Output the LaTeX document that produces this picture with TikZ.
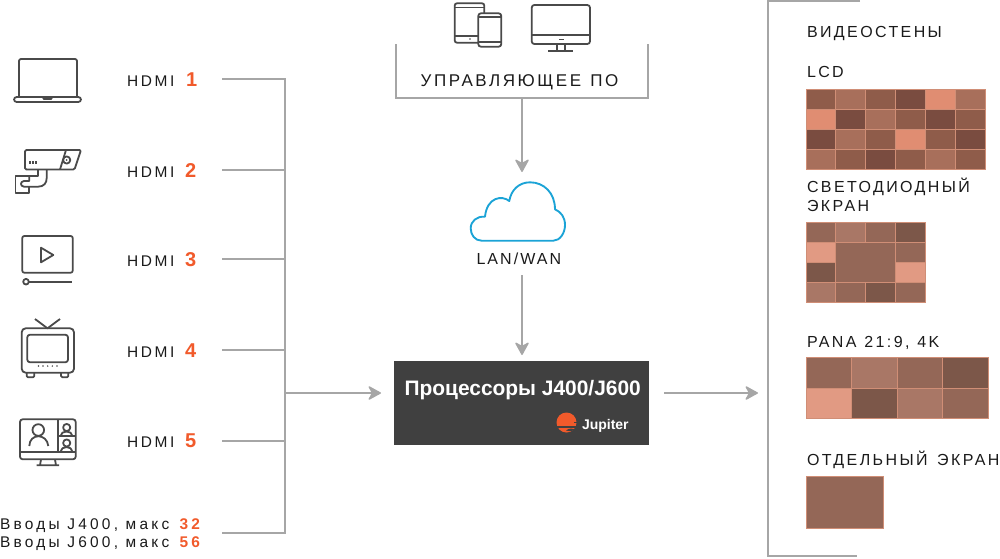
\documentclass[tikz,border=0pt]{standalone}
\usepackage{fontspec}
\setmainfont{Liberation Sans}
\usetikzlibrary{arrows.meta}
\definecolor{ln}{HTML}{A6A6A6}
\definecolor{ic}{HTML}{4A4A4A}
\definecolor{org}{HTML}{F15A2B}
\definecolor{blu}{HTML}{1BA3D6}
\definecolor{tx}{HTML}{1A1A1A}
\definecolor{pbox}{HTML}{404040}
\definecolor{ad}{HTML}{7A4C40}
\definecolor{am}{HTML}{8F5C4A}
\definecolor{al}{HTML}{A86F5B}
\definecolor{ab}{HTML}{E08D72}
\definecolor{agrid}{HTML}{D08E76}
\definecolor{bd}{HTML}{7C5749}
\definecolor{bm}{HTML}{946757}
\definecolor{bl}{HTML}{A97766}
\definecolor{bb}{HTML}{E19A83}
\tikzset{
  x=0.75pt,y=-0.75pt,
  wire/.style={draw=ln,line width=1pt},
  arrowwire/.style={wire,-{Stealth[length=10.5pt,width=11.5pt,inset=3pt,round=false]}},
  icon/.style={draw=ic,line width=1.35pt,line join=round,fill=none},
  lab/.style={anchor=base west,inner sep=0pt,outer sep=0pt,text=tx},
  cell/.style={draw=agrid,line width=0.6pt},
}
\newcommand{\hd}{\fontsize{11.6}{14}\selectfont\addfontfeature{LetterSpace=17}}
\newcommand{\nm}{\fontsize{15}{17}\selectfont\bfseries\color{org}}
\newcommand{\inp}{\fontsize{11.6}{14}\selectfont\addfontfeature{LetterSpace=21}}
\newcommand{\wl}{\fontsize{12}{14}\selectfont\addfontfeature{LetterSpace=15}}
\begin{document}
\begin{tikzpicture}
\useasboundingbox (0,0) rectangle (1000,558);
% ---- input labels
\node[lab] (t1) at (127,86) {\hd HDMI};
\node[lab] (t2) at (127,177) {\hd HDMI};
\node[lab] (t3) at (127,266) {\hd HDMI};
\node[lab] (t4) at (127,357) {\hd HDMI};
\node[lab] (t5) at (127,447) {\hd HDMI};
\node[lab] (n1) at (186,86) {\nm 1};
\node[lab] (n2) at (185,177) {\nm 2};
\node[lab] (n3) at (185,266) {\nm 3};
\node[lab] (n4) at (185,357) {\nm 4};
\node[lab] (n5) at (185,447) {\nm 5};
\node[lab] (i4) at (0,529) {\inp Вводы J400, макс\hspace{2pt} \textcolor{org}{\bfseries 32}};
\node[lab] (i6) at (0,547.7) {\inp Вводы J600, макс\hspace{2pt} \textcolor{org}{\bfseries 56}};
% ---- connectors
\coordinate (s1) at (222,79); \coordinate (s2) at (222,170); \coordinate (s3) at (222,259);
\coordinate (s4) at (222,350); \coordinate (s5) at (222,441); \coordinate (s6) at (222,533);
\coordinate (top) at (285,79); \coordinate (bot) at (285,533);
\coordinate (j2) at (285,170); \coordinate (j3) at (285,259); \coordinate (j4) at (285,350);
\coordinate (j5) at (285,441); \coordinate (jm) at (285,393);
\draw[wire] (s1) -- (top) -- (bot) -- (s6);
\draw[wire] (s2) -- (j2);
\draw[wire] (s3) -- (j3);
\draw[wire] (s4) -- (j4);
\draw[wire] (s5) -- (j5);
% ---- processor
\node[fill=pbox,draw=none,minimum width=191.25pt,minimum height=63pt,inner sep=0pt,anchor=north west] (proc) at (394,361) {};
\node[lab,text=white] (ptitle) at (404.5,395) {\fontsize{15.7}{18}\selectfont\bfseries Процессоры J400/J600};
\node[lab,text=white] (jup) at (582,429) {\fontsize{10.5}{12}\selectfont\bfseries Jupiter};
\fill[org] (566.5,422.5) circle[radius=10];
\fill[pbox] (556,426.4) rectangle (577,428);
\fill[pbox] (566,430.5) .. controls (569,428) and (573,428) .. (575,430) -- (570,431.2) -- cycle;
\draw[pbox,line width=0.5pt] (574,422) -- (578,422);
\coordinate (pin) at (381,393); \coordinate (pout) at (664,393); \coordinate (wallin) at (758,393);
\draw[arrowwire] (jm) -- (pin);
\draw[arrowwire] (pout) -- (wallin);
% ---- software bracket
\coordinate (bl1) at (396,44); \coordinate (bl2) at (396,98); \coordinate (br2) at (648,98); \coordinate (br1) at (648,44);
\draw[wire] (bl1) -- (bl2) -- (br2) -- (br1);
\node[lab] (soft) at (420.7,86) {\fontsize{12.75}{15}\selectfont\addfontfeature{LetterSpace=15}УПРАВЛЯЮЩЕЕ\hspace{1.5pt} ПО};
\coordinate (sw) at (522,98); \coordinate (cltop) at (522,172);
\draw[arrowwire] (sw) -- (cltop);
% ---- cloud
\draw[blu,line width=1.4pt,line join=round]
  (481.7,240.7) -- (553.3,240.7)
  .. controls (560,240.7) and (565,233) .. (565,225)
  .. controls (565,217) and (561,212) .. (555,209.3)
  .. controls (555,193) and (544,182.3) .. (530,182.3)
  .. controls (519,182.3) and (511,190) .. (509.3,201)
  .. controls (502,195) and (487,197) .. (485,216.7)
  .. controls (477,216) and (470.7,221) .. (470.7,228.3)
  .. controls (470.7,235) and (475,240.7) .. (481.7,240.7) -- cycle;
\node[lab] (lan) at (476.5,264.7) {\fontsize{12}{14}\selectfont\addfontfeature{LetterSpace=13}LAN/WAN};
\coordinate (cl) at (522,275); \coordinate (prt) at (522,355);
\draw[arrowwire] (cl) -- (prt);
% ---- right bracket
\coordinate (rt) at (860,1); \coordinate (rtl) at (768,1); \coordinate (rbl) at (768,556); \coordinate (rb) at (857,556);
\draw[wire] (rt) -- (rtl) -- (rbl) -- (rb);
% ---- right labels
\node[lab] (w0) at (807,37) {\wl ВИДЕОСТЕНЫ};
\node[lab] (w1) at (807,77) {\wl LCD};
\node[lab] (w2) at (807,192) {\wl СВЕТОДИОДНЫЙ};
\node[lab] (w2b) at (807,211) {\wl ЭКРАН};
\node[lab] (w3) at (807,347.7) {\wl PANA\hspace{0.7pt} 21:9,\hspace{0.7pt} 4K};
\node[lab] (w4) at (807,465) {\wl ОТДЕЛЬНЫЙ\hspace{2pt} ЭКРАН};
% ---- LCD wall
\foreach \r/\row in {0/{am,al,am,ad,ab,al},1/{ab,ad,al,am,ad,am},2/{ad,al,am,ab,am,ad},3/{al,am,ad,am,al,am}}{
  \foreach \c [count=\i from 0] in \row {
    \filldraw[cell,fill=\c] ({806+\i*29.83},{89+\r*20}) rectangle ++(29.83,20);
  }
}
% ---- LED wall
\foreach \r/\row in {0/{bm,bl,bm,bd},3/{bl,bm,bd,bm}}{
  \foreach \c [count=\i from 0] in \row {
    \filldraw[cell,fill=\c] ({806+\i*29.75},{222+\r*20}) rectangle ++(29.75,20);
  }
}
\filldraw[cell,fill=bb] (806,242) rectangle (835.75,262);
\filldraw[cell,fill=bd] (806,262) rectangle (835.75,282);
\filldraw[cell,fill=bm] (835.75,242) rectangle (895.25,282);
\filldraw[cell,fill=bm] (895.25,242) rectangle (925,262);
\filldraw[cell,fill=bb] (895.25,262) rectangle (925,282);
% ---- PANA wall
\foreach \r/\row in {0/{bm,bl,bm,bd},1/{bb,bd,bl,bm}}{
  \foreach \c [count=\i from 0] in \row {
    \filldraw[cell,fill=\c] ({806+\i*45.5},{357.5+\r*30.5}) rectangle ++(45.5,30.5);
  }
}
% ---- single
\filldraw[cell,fill=bm] (806,476) rectangle (883.5,528);
% ---- laptop
\draw[icon,rounded corners=1.5pt] (19,97) -- (19,59) -- (77,59) -- (77,97);
\draw[icon,rounded corners=2pt] (14,97) -- (81,97) -- (81,102) -- (14,102) -- cycle;
\draw[icon] (43,97.5) -- (44,99) -- (51,99) -- (52,97.5);
% ---- camera
\draw[icon,rounded corners=1pt] (25,169.5) -- (25,150) -- (81,150) -- (74.5,169.5) -- cycle;
\draw[icon] (66,150) -- (60,169.5);
\draw[icon] (66.7,160) circle[radius=3.6];
\fill[ic] (66.7,160) circle[radius=1];
\draw[ic,line width=1pt] (30,161) -- (30,164) (33,161) -- (33,164) (36,161) -- (36,164);
\draw[icon] (38.3,169.5) -- (38.3,176) -- (15.5,176) -- (15.5,193) -- (29.3,193) -- (29.3,186.7);
\draw[icon] (29.3,176) -- (29.3,181) -- (24,181) .. controls (20,181.5) and (20,186.2) .. (24,186.7) -- (38,186.7) .. controls (44,186.7) and (46.7,183) .. (46.7,178) -- (46.7,169.5);
% ---- video
\draw[icon,rounded corners=1.5pt] (22.3,236) rectangle (72.7,272.7);
\draw[icon] (41,247.7) -- (53.3,255) -- (41,262.3) -- cycle;
\draw[icon] (26,281.7) circle[radius=2.8];
\draw[icon] (28.8,281.7) -- (71.7,281.7);
% ---- tv
\draw[icon,rounded corners=3pt] (21.7,328.3) rectangle (74,372.7);
\draw[icon,rounded corners=2pt] (27.3,334.7) rectangle (68,362.3);
\foreach \xx in {38.5,43,47.7,52.3,57}{\fill[ic] (\xx,366) circle[radius=0.8];}
\draw[icon] (35,319) -- (47.5,328.3) -- (60,319);
\draw[icon,rounded corners=1pt] (26.7,372.7) -- (26.7,377.3) -- (34.3,377.3) -- (34.3,372.7);
\draw[icon,rounded corners=1pt] (61,372.7) -- (61,377.3) -- (68.3,377.3) -- (68.3,372.7);
% ---- conference monitor
\draw[icon,rounded corners=2pt] (20,419.3) rectangle (75.7,459.3);
\draw[icon] (20,451.7) -- (75.7,451.7) (57.7,419.3) -- (57.7,451.7) (57.7,436) -- (75.7,436);
\draw[icon] (41,459.3) -- (40,465.3) (55,459.3) -- (56,465.3) (36.7,465.3) -- (59,465.3);
\draw[icon] (38.3,430) circle[radius=5.8];
\draw[icon] (29.3,446) .. controls (29.5,433) and (47,433) .. (48.3,446);
\draw[icon] (66.7,427.5) circle[radius=3.6];
\draw[icon] (60.5,436) .. controls (61,430) and (72,430) .. (72.5,436);
\draw[icon] (66.7,443) circle[radius=3.6];
\draw[icon] (60.5,451.7) .. controls (61,445.5) and (72,445.5) .. (72.5,451.7);
% ---- tablet + phone
\draw[icon] (478.3,42.7) -- (457,42.7) arc[start angle=90,end angle=180,radius=2.3] -- (454.7,5.6) arc[start angle=180,end angle=270,radius=2.3] -- (482,3.3) arc[start angle=-90,end angle=0,radius=2.3] -- (484.3,13.3);
\draw[icon] (454.7,7.5) -- (484.3,7.5) (454.7,36) -- (478.3,36);
\fill[ic] (470,39) circle[radius=0.8];
\draw[icon,rounded corners=2pt] (478.3,13.3) rectangle (501.3,46.7);
\draw[icon] (478.3,17.3) -- (501.3,17.3) (478.3,42) -- (501.3,42);
% ---- desktop
\draw[icon,rounded corners=2pt] (531.7,5) rectangle (590,44);
\draw[icon] (531.7,35) -- (590,35);
\fill[ic] (558.5,38.7) rectangle (563.5,40);
\draw[icon] (556.7,44) -- (556.7,50.7) (565,44) -- (565,50.7) (548,50.7) -- (572.7,50.7);
\end{tikzpicture}
\end{document}
